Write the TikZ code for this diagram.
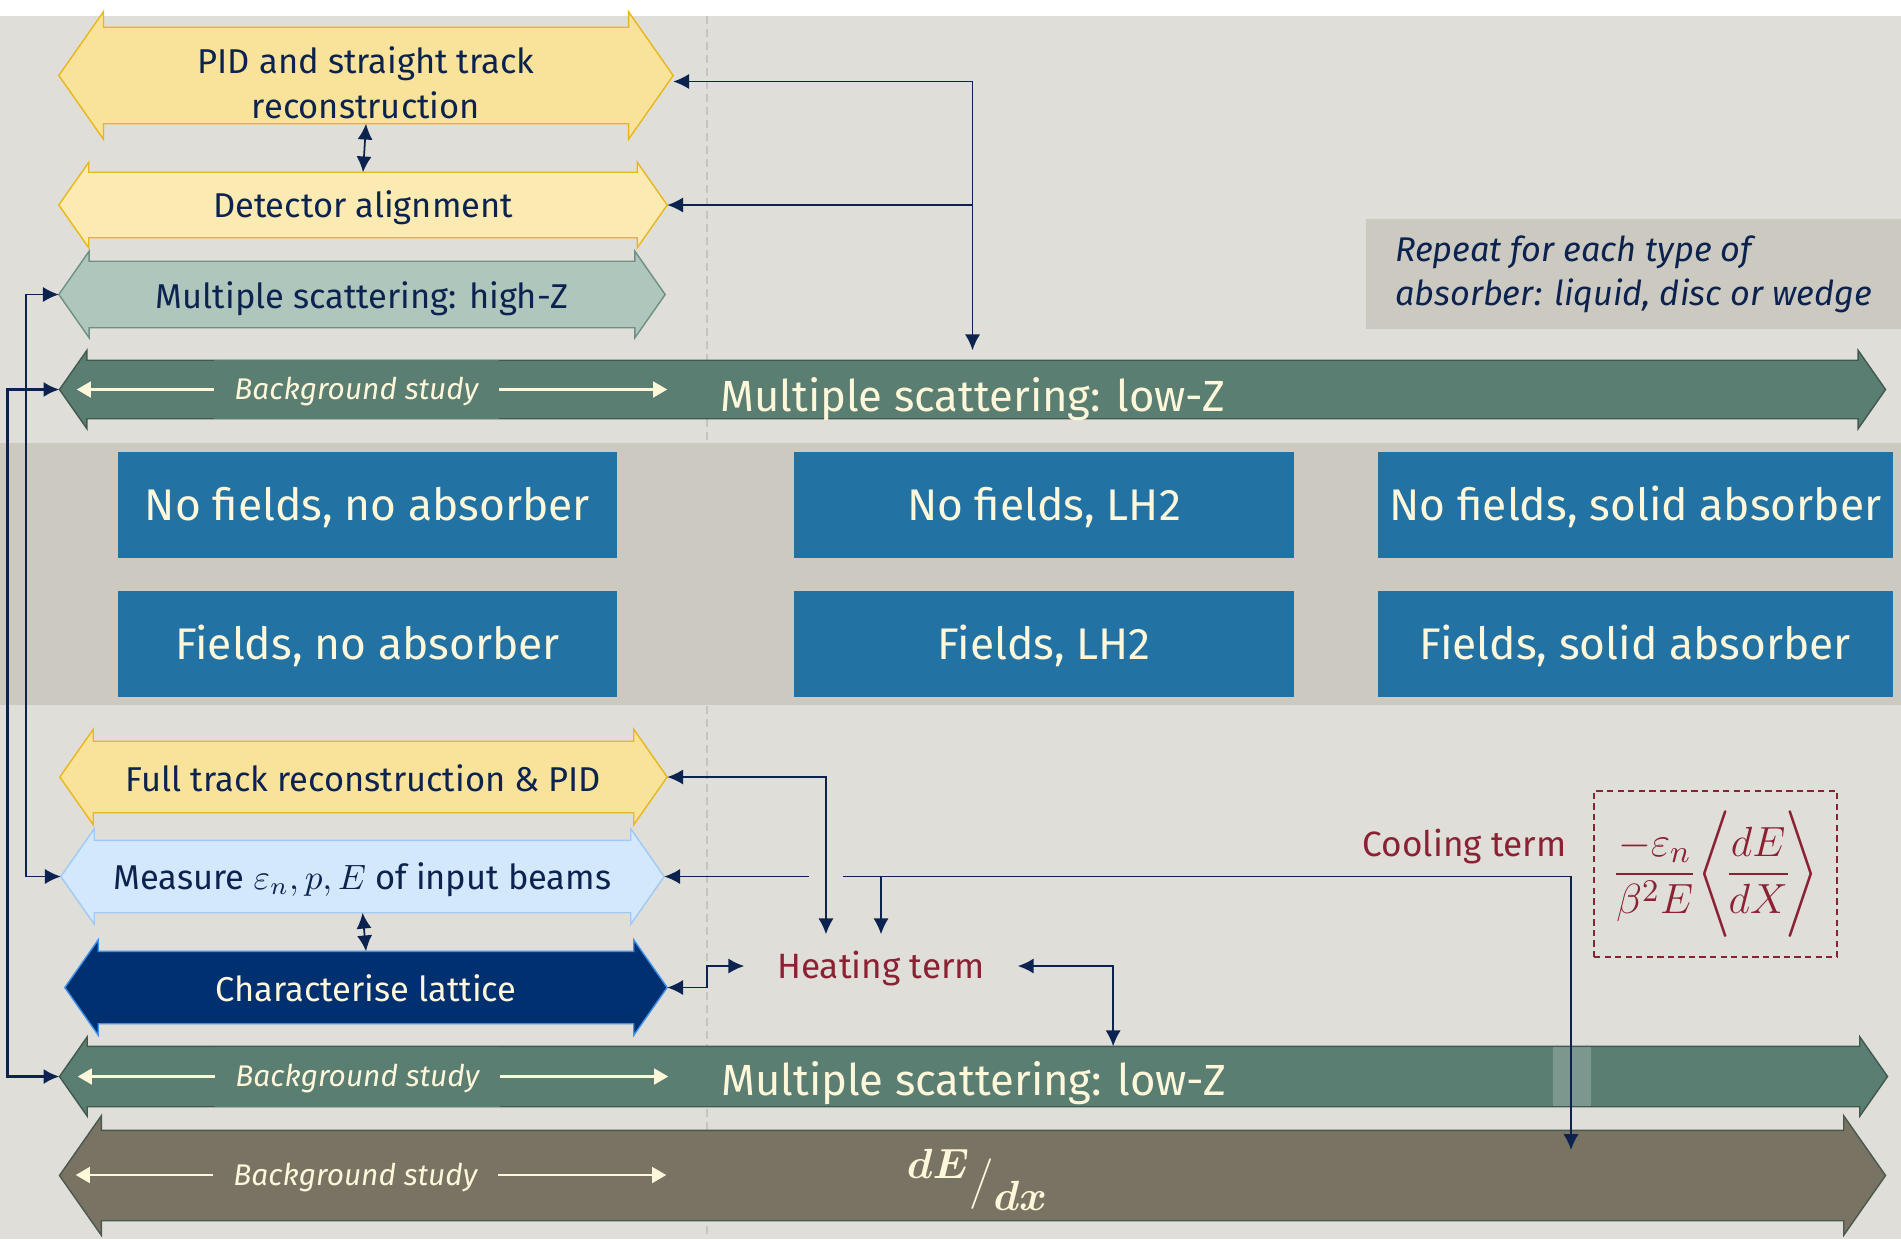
\documentclass[tikz,border=0pt]{standalone}
\usepackage{amsmath}
\usepackage{fontspec}
\setmainfont{Fira Sans}
\usetikzlibrary{shapes.arrows,arrows.meta}

\definecolor{bgA}{HTML}{DFDED9}
\definecolor{bandgrey}{HTML}{CCC9C1}
\definecolor{vline}{HTML}{C6C4BE}
\definecolor{navy}{HTML}{0C2350}
\definecolor{cream}{HTML}{FFF7DA}
\definecolor{gold}{HTML}{E8B71C}
\definecolor{pidfill}{HTML}{F9E39A}
\definecolor{alignfill}{HTML}{FBEBB3}
\definecolor{hzfill}{HTML}{AFC6BD}
\definecolor{hzline}{HTML}{6E9084}
\definecolor{lowz}{HTML}{5A7E72}
\definecolor{lowzline}{HTML}{41594F}
\definecolor{cellblue}{HTML}{2272A4}
\definecolor{measfill}{HTML}{D4E8FB}
\definecolor{measline}{HTML}{9ECBF6}
\definecolor{latfill}{HTML}{003070}
\definecolor{latline}{HTML}{3F90EA}
\definecolor{dedxfill}{HTML}{797363}
\definecolor{dedxline}{HTML}{4B5850}
\definecolor{termred}{HTML}{8B2234}

\tikzset{
  band/.style n args={3}{double arrow, double arrow tip angle=110,
    double arrow head extend=#1, text height=#2, text depth=#3,
    inner sep=0pt, outer sep=0pt, line width=0.4pt, text=navy,
    font=\fontsize{9.8}{12.8}\selectfont},
  lowzlbl/.style={text=cream, font=\fontsize{12.4}{15}\selectfont},
  cell/.style={fill=cellblue, text=cream, minimum width=4.99cm,
    minimum height=1.06cm, inner sep=0pt, text height=8.7pt,
    text depth=0pt, font=\fontsize{12.6}{15}\selectfont},
  bgstudy/.style={text=cream, inner ysep=0pt, inner xsep=0.2cm,
    text height=5.9pt, text depth=0pt,
    font=\fontsize{8.5}{10}\selectfont\itshape},
  bgarr/.style={cream, line width=0.6pt, -{Triangle[length=4pt,width=4.5pt]}},
  conn/.style={navy, line width=0.5pt},
  term/.style={text=termred, inner sep=0pt, text height=6.9pt,
    text depth=0pt, font=\fontsize{10}{12}\selectfont},
}

\begin{document}
\begin{tikzpicture}[x=0.01cm, y=-0.01cm, >={Latex[length=4.5pt,width=4.3pt]}]
  \useasboundingbox (0,0) rectangle (1901,1239);
  % background
  \fill[white] (0,0) rectangle (1901,1239);
  \fill[bgA] (0,16) rectangle (1901,1239);
  \draw[vline, line width=0.45pt, dash pattern=on 2.3pt off 1.4pt] (707,16) -- (707,1239);
  \fill[bandgrey] (0,443) rectangle (1901,705);

  % upper arrows
  \node[band={0.155cm}{0.673cm}{0.277cm}, minimum height=6.14cm, fill=pidfill, draw=gold] (pid) at (366,75.5)
    {\begin{tabular}{@{}c@{}}PID and straight track\\reconstruction\end{tabular}};
  \node[band={0.10cm}{0.446cm}{0.194cm}, minimum height=6.08cm, fill=alignfill, draw=gold] (det) at (363,205) {Detector alignment};
  \node[band={0.10cm}{0.46cm}{0.19cm}, minimum height=6.06cm, fill=hzfill, draw=hzline] (hz) at (362,294.5) {Multiple scattering: high-Z};
  \node[band={0.10cm}{0.50cm}{0.07cm}, minimum height=18.25cm, fill=lowz, draw=lowzline, lowzlbl] (lowzt) at (972.5,389.5) {Multiple scattering: low-Z};
  \node[bgstudy, fill=lowz, minimum height=0.59cm] (bgt) at (356.5,389.5) {Background study};
  \draw[bgarr] (bgt.west) -- ++(-137,0);
  \draw[bgarr] (bgt.east) -- ++(168,0);

  \node[fill=bandgrey, text=navy, align=left, minimum width=5.35cm, minimum height=1.10cm, inner sep=0pt,
    font=\fontsize{9.75}{12.5}\selectfont\itshape] (rep) at (1633.5,274)
    {Repeat for each type of\\absorber: liquid, disc or wedge};

  % run configurations
  \node[cell] (c11) at (367.5,505) {No fields, no absorber};
  \node[cell] (c12) at (1044,505) {No fields, LH2};
  \node[cell, minimum width=5.15cm] (c13) at (1635.5,505) {No fields, solid absorber};
  \node[cell] (c21) at (367.5,644) {Fields, no absorber};
  \node[cell] (c22) at (1044,644) {Fields, LH2};
  \node[cell, minimum width=5.15cm] (c23) at (1635.5,644) {Fields, solid absorber};

  % lower arrows
  \node[band={0.12cm}{0.49cm}{0.21cm}, minimum height=6.07cm, fill=pidfill, draw=gold] (full) at (363.5,777) {Full track reconstruction \& PID};
  \node[band={0.115cm}{0.486cm}{0.224cm}, minimum height=6.03cm, fill=measfill, draw=measline] (meas) at (362.5,876.5) {Measure $\varepsilon_n, p, E$ of input beams};
  \node[band={0.115cm}{0.496cm}{0.214cm}, minimum height=6.02cm, fill=latfill, draw=latline, text=cream] (lat) at (366,987.5) {Characterise lattice};
  \node[band={0.095cm}{0.48cm}{0.11cm}, minimum height=18.27cm, fill=lowz, draw=lowzline, lowzlbl] (lowzb) at (973.5,1076.5) {Multiple scattering: low-Z};
  \node[bgstudy, fill=lowz, minimum height=0.60cm] (bgb) at (357.5,1076.5) {Background study};
  \draw[bgarr] (bgb.west) -- ++(-137,0);
  \draw[bgarr] (bgb.east) -- ++(168,0);
  \node[band={0.145cm}{0.89cm}{0cm}, minimum height=18.25cm, fill=dedxfill, draw=dedxline] (dedx) at (972.5,1175.5) {};
  \node[bgstudy] (bgd) at (355.5,1175) {Background study};
  \draw[bgarr] (bgd.west) -- ++(-137,0);
  \draw[bgarr] (bgd.east) -- ++(168,0);
  \node[text=cream, inner sep=0pt, font=\fontsize{12}{14}\selectfont] (dedxlbl) at (977,1180)
    {$\raisebox{4.5pt}{$\boldsymbol{dE}$}\big/\raisebox{-4.5pt}{$\boldsymbol{dx}$}$};

  % terms
  \node[term, minimum width=2.72cm, minimum height=0.62cm] (heat) at (881,966) {Heating term};
  \node[term] (cool) at (1464.5,844) {Cooling term};
  \node[draw=termred, line width=0.55pt, dash pattern=on 1.8pt off 1.2pt, text=termred, inner sep=0pt,
    minimum width=2.43cm, minimum height=1.66cm, font=\fontsize{12.5}{15}\selectfont] (coolf) at (1715.5,874)
    {$\displaystyle\frac{-\varepsilon_n}{\beta^2E}\Biggl\langle\!\frac{dE}{dX}\!\Biggr\rangle$};
  \coordinate (coolend) at (1571,1150);
  \coordinate (hv) at ([xshift=-0.55cm]heat.north);

  % connectors
  \fill[white, opacity=0.2] (1553,1047) rectangle (1591,1106);
  \draw[conn, <->] (pid.south) -- (det.north);
  \draw[conn, <->] ([yshift=-0.06cm]pid.east) -| ([yshift=0.1cm]lowzt.north);
  \draw[conn, ->] (lowzt.north |- det.east) -- (det.east);
  \draw[conn, <->] (hz.west) -- ++(-33,0) |- (meas.west);
  \draw[conn, <->, line width=0.75pt] (lowzt.west) -- ++(-52,0) |- (lowzb.west);
  \draw[conn, <->] (meas.south) -- (lat.north);
  \draw[conn, <->] (meas.east) -| (coolend);
  \draw[conn, ->] (meas.east -| heat.north) -- (heat.north);
  \fill[bgA] ([xshift=-0.17cm, yshift=-0.04cm]meas.east -| hv) rectangle ([xshift=0.17cm, yshift=0.04cm]meas.east -| hv);
  \draw[conn, <->] (full.east) -| (hv);
  \draw[conn, <->] (lat.east) -- ++(40,0) |- (heat.west);
  \draw[conn, <->] (heat.east) -| ([xshift=1.395cm]lowzb.north);
\end{tikzpicture}
\end{document}
